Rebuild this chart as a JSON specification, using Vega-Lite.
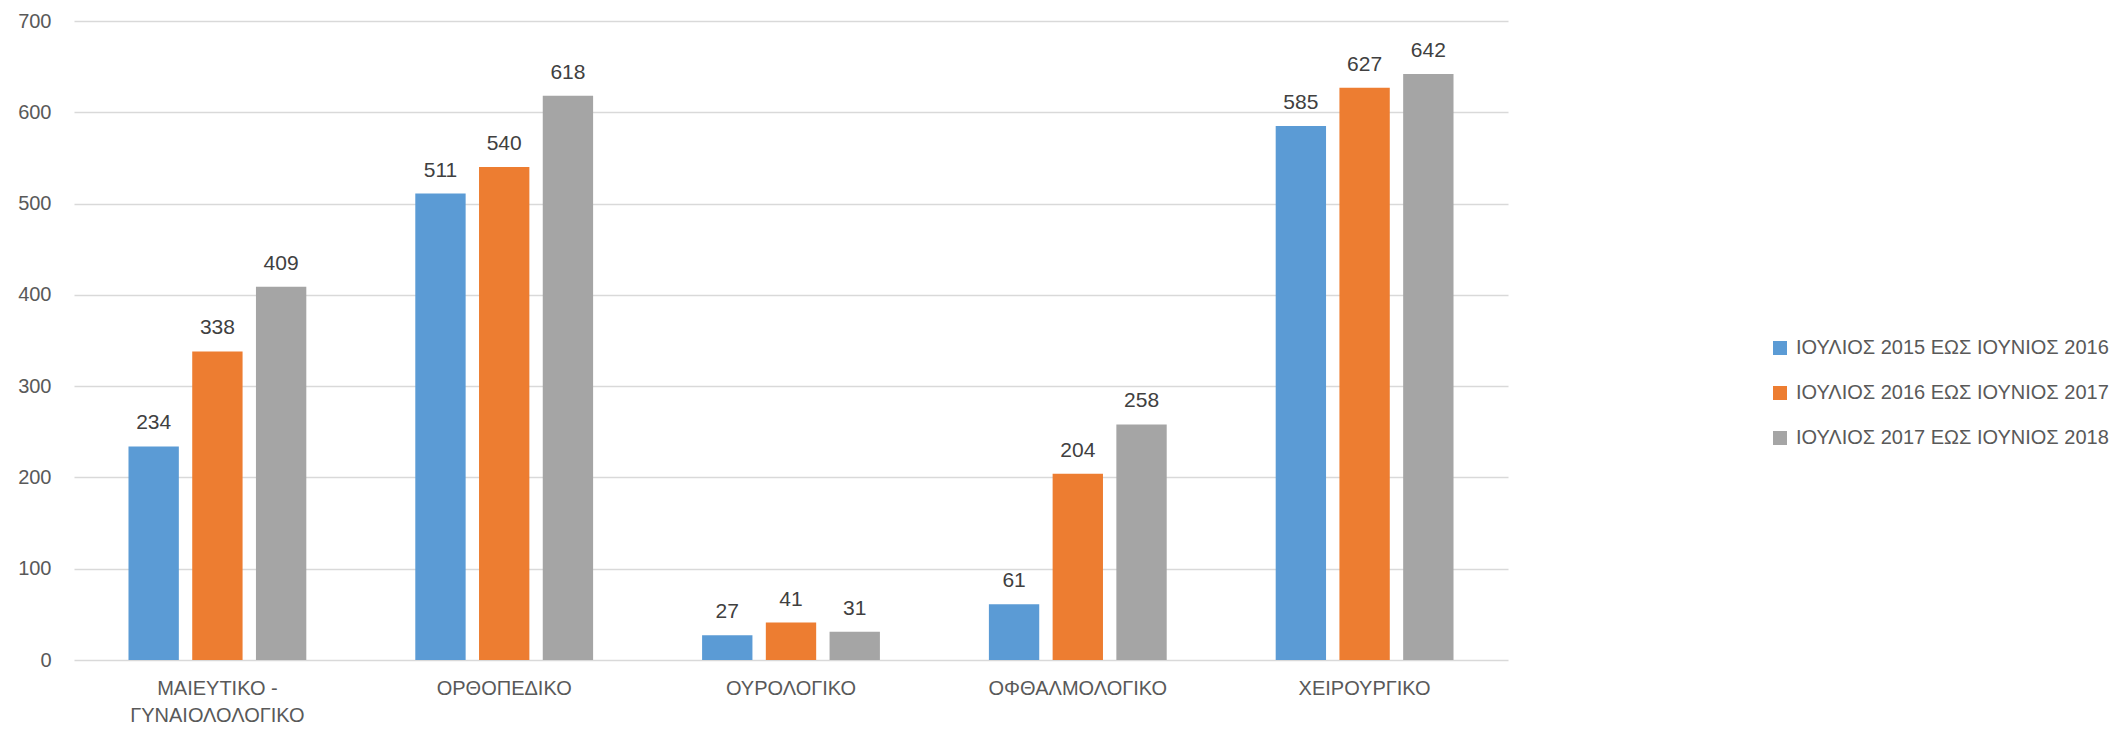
{
  "$schema": "https://vega.github.io/schema/vega-lite/v6.json",
  "width": 1434,
  "height": 639,
  "autosize": {"type": "none"},
  "padding": {"left": 74, "top": 21, "right": 612, "bottom": 71},
  "background": "white",
  "config": {"view": {"stroke": null}, "font": "Liberation Sans"},
  "data": {"values": [
    {"cat": "ΜΑΙΕΥΤΙΚΟ - ΓΥΝΑΙΟΛΟΛΟΓΙΚΟ", "period": "ΙΟΥΛΙΟΣ 2015 ΕΩΣ ΙΟΥΝΙΟΣ 2016", "value": 234},
    {"cat": "ΜΑΙΕΥΤΙΚΟ - ΓΥΝΑΙΟΛΟΛΟΓΙΚΟ", "period": "ΙΟΥΛΙΟΣ 2016 ΕΩΣ ΙΟΥΝΙΟΣ 2017", "value": 338},
    {"cat": "ΜΑΙΕΥΤΙΚΟ - ΓΥΝΑΙΟΛΟΛΟΓΙΚΟ", "period": "ΙΟΥΛΙΟΣ 2017 ΕΩΣ ΙΟΥΝΙΟΣ 2018", "value": 409},
    {"cat": "ΟΡΘΟΠΕΔΙΚΟ", "period": "ΙΟΥΛΙΟΣ 2015 ΕΩΣ ΙΟΥΝΙΟΣ 2016", "value": 511},
    {"cat": "ΟΡΘΟΠΕΔΙΚΟ", "period": "ΙΟΥΛΙΟΣ 2016 ΕΩΣ ΙΟΥΝΙΟΣ 2017", "value": 540},
    {"cat": "ΟΡΘΟΠΕΔΙΚΟ", "period": "ΙΟΥΛΙΟΣ 2017 ΕΩΣ ΙΟΥΝΙΟΣ 2018", "value": 618},
    {"cat": "ΟΥΡΟΛΟΓΙΚΟ", "period": "ΙΟΥΛΙΟΣ 2015 ΕΩΣ ΙΟΥΝΙΟΣ 2016", "value": 27},
    {"cat": "ΟΥΡΟΛΟΓΙΚΟ", "period": "ΙΟΥΛΙΟΣ 2016 ΕΩΣ ΙΟΥΝΙΟΣ 2017", "value": 41},
    {"cat": "ΟΥΡΟΛΟΓΙΚΟ", "period": "ΙΟΥΛΙΟΣ 2017 ΕΩΣ ΙΟΥΝΙΟΣ 2018", "value": 31},
    {"cat": "ΟΦΘΑΛΜΟΛΟΓΙΚΟ", "period": "ΙΟΥΛΙΟΣ 2015 ΕΩΣ ΙΟΥΝΙΟΣ 2016", "value": 61},
    {"cat": "ΟΦΘΑΛΜΟΛΟΓΙΚΟ", "period": "ΙΟΥΛΙΟΣ 2016 ΕΩΣ ΙΟΥΝΙΟΣ 2017", "value": 204},
    {"cat": "ΟΦΘΑΛΜΟΛΟΓΙΚΟ", "period": "ΙΟΥΛΙΟΣ 2017 ΕΩΣ ΙΟΥΝΙΟΣ 2018", "value": 258},
    {"cat": "ΧΕΙΡΟΥΡΓΙΚΟ", "period": "ΙΟΥΛΙΟΣ 2015 ΕΩΣ ΙΟΥΝΙΟΣ 2016", "value": 585},
    {"cat": "ΧΕΙΡΟΥΡΓΙΚΟ", "period": "ΙΟΥΛΙΟΣ 2016 ΕΩΣ ΙΟΥΝΙΟΣ 2017", "value": 627},
    {"cat": "ΧΕΙΡΟΥΡΓΙΚΟ", "period": "ΙΟΥΛΙΟΣ 2017 ΕΩΣ ΙΟΥΝΙΟΣ 2018", "value": 642}
  ]},
  "encoding": {
    "x": {
      "field": "cat", "type": "nominal", "sort": null,
      "scale": {"paddingInner": 0.38, "paddingOuter": 0.19},
      "axis": {
        "title": null, "labelAngle": 0, "ticks": false, "domain": false,
        "labelFontSize": 20, "labelColor": "#595959", "labelPadding": 18,
        "labelLineHeight": 27, "labelLimit": 0,
        "labelExpr": "datum.value == 'ΜΑΙΕΥΤΙΚΟ - ΓΥΝΑΙΟΛΟΛΟΓΙΚΟ' ? ['ΜΑΙΕΥΤΙΚΟ -', 'ΓΥΝΑΙΟΛΟΛΟΓΙΚΟ'] : datum.value"
      }
    },
    "xOffset": {
      "field": "period", "type": "nominal", "sort": null,
      "scale": {"paddingInner": 0.21, "paddingOuter": 0}
    },
    "y": {
      "field": "value", "type": "quantitative",
      "scale": {"domain": [0, 700], "nice": false},
      "axis": {
        "title": null, "values": [0, 100, 200, 300, 400, 500, 600, 700],
        "ticks": false, "domain": false, "grid": true,
        "gridColor": "#d9d9d9", "gridWidth": 1.5,
        "labelFontSize": 20, "labelColor": "#595959", "labelPadding": 23
      }
    }
  },
  "layer": [
    {
      "mark": {"type": "bar"},
      "encoding": {
        "color": {
          "field": "period", "type": "nominal",
          "scale": {
            "domain": ["ΙΟΥΛΙΟΣ 2015 ΕΩΣ ΙΟΥΝΙΟΣ 2016", "ΙΟΥΛΙΟΣ 2016 ΕΩΣ ΙΟΥΝΙΟΣ 2017", "ΙΟΥΛΙΟΣ 2017 ΕΩΣ ΙΟΥΝΙΟΣ 2018"],
            "range": ["#5B9BD5", "#ED7D31", "#A5A5A5"]
          },
          "legend": {
            "title": null, "orient": "none", "legendX": 1696, "legendY": 317,
            "symbolType": "square", "symbolSize": 196, "symbolStrokeWidth": 0,
            "labelFontSize": 20, "labelColor": "#595959", "labelOffset": 6,
            "rowPadding": 25, "labelLimit": 0
          }
        }
      }
    },
    {
      "mark": {"type": "text", "dy": -17, "baseline": "alphabetic", "fontSize": 21, "color": "#404040"},
      "encoding": {"text": {"field": "value", "type": "quantitative"}}
    }
  ]
}
